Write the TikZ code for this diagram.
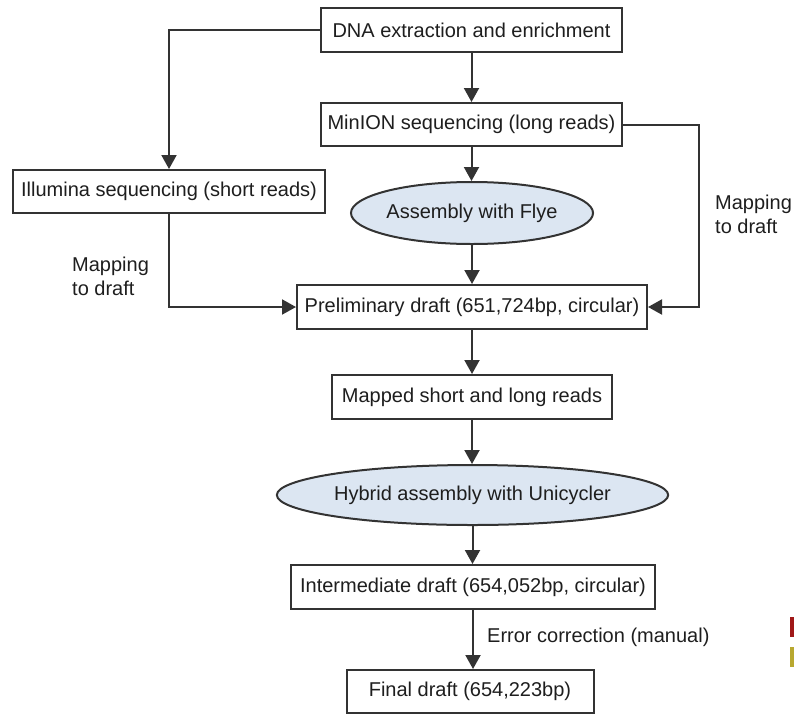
\documentclass[tikz,border=0pt]{standalone}
\usepackage{fontspec}
\setmainfont{Liberation Sans}
\usetikzlibrary{arrows.meta,shapes.geometric}
\definecolor{linec}{HTML}{333333}
\definecolor{textc}{HTML}{1E1E1E}
\definecolor{ellfill}{HTML}{DCE6F2}
\definecolor{markred}{HTML}{A01818}
\definecolor{markyel}{HTML}{B8A830}
\begin{document}
\begin{tikzpicture}[x=1pt,y=-1pt,
  txt/.style={text=textc, font=\fontsize{20}{24}\selectfont},
  box/.style={txt, draw=linec, line width=2pt, fill=white, rectangle, inner sep=0pt},
  ell/.style={txt, draw=linec, line width=2pt, fill=ellfill, ellipse, inner sep=0pt},
  arr/.style={draw=linec, line width=2pt, -{Triangle[width=15pt,length=14pt]}},
  lbl/.style={txt, align=left, inner sep=0pt}]
\useasboundingbox (0,0) rectangle (794,715);
\node[box, minimum width=301pt, minimum height=44pt] (dna) at (471.5,30) {DNA extraction and enrichment};
\node[box, minimum width=301pt, minimum height=43pt] (minion) at (471.5,124.5) {MinION sequencing (long reads)};
\node[box, minimum width=312pt, minimum height=43pt] (illu) at (169,191.5) {Illumina sequencing (short reads)};
\node[ell, minimum width=234pt, minimum height=62pt] (flye) at (472,213) {Assembly with Flye};
\node[box, minimum width=350pt, minimum height=44pt] (prelim) at (472,307) {Preliminary draft (651,724bp, circular)};
\node[box, minimum width=280pt, minimum height=44pt] (mapped) at (472,397) {Mapped short and long reads};
\node[ell, minimum width=296pt, minimum height=60pt] (hybrid) at (472.5,495) {Hybrid assembly with Unicycler};
\node[box, minimum width=364pt, minimum height=44pt] (inter) at (473,587) {Intermediate draft (654,052bp, circular)};
\node[box, minimum width=247pt, minimum height=43pt] (final) at (470,691.5) {Final draft (654,223bp)};
\coordinate (rc) at (699,0);
\draw[arr] (dna.west) -| (illu.north);
\draw[arr] (dna.south) -- (dna.south |- minion.north);
\draw[arr] (minion.south) -- (minion.south |- flye.north);
\draw[arr] (flye.south) -- (flye.south |- prelim.north);
\draw[arr] (minion.east) -- (minion.east -| rc) |- (prelim.east);
\draw[arr] (illu.south) |- (prelim.west);
\draw[arr] (prelim.south) -- (prelim.south |- mapped.north);
\draw[arr] (mapped.south) -- (mapped.south |- hybrid.north);
\draw[arr] (hybrid.south) -- (hybrid.south |- inter.north);
\draw[arr] (inter.south) -- (inter.south |- final.north);
\node[lbl, anchor=north west] (ml) at (72,257) {Mapping\\to draft};
\node[lbl, anchor=north west] (mr) at (715,195) {Mapping\\to draft};
\node[lbl, anchor=west] (ec) at (487,637) {Error correction (manual)};
\fill[markred] (790,617) rectangle (794,637);
\fill[markyel] (790,647) rectangle (794,667);
\end{tikzpicture}
\end{document}
